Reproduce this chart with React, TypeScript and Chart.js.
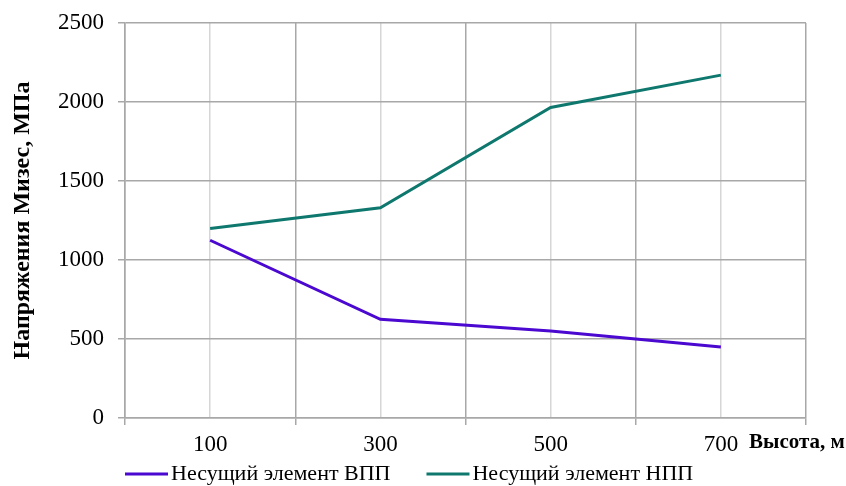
import React, { useEffect, useRef } from "react";
import { Chart, registerables } from "chart.js";

Chart.register(...registerables);

// Heights along the x axis (m)
const heights = [100, 300, 500, 700];
// Von Mises stress, MPa
const upperMember = [1125, 625, 550, 450];
const lowerMember = [1200, 1330, 1965, 2170];

const seriesLabels = ["Несущий элемент ВПП", "Несущий элемент НПП"];
const seriesColors = ["#4a08d0", "#0f786e"];

const yTitle = "Напряжения Мизес, МПа";
const xTitle = "Высота, м";

const SERIF = "'Liberation Serif', 'Times New Roman', serif";

const sideTextPlugin = {
  id: "sideText",
  afterDraw(chart: any) {
    const { ctx, chartArea } = chart;
    ctx.save();
    // axis title to the right of the last height label
    ctx.font = `bold 21px ${SERIF}`;
    ctx.fillStyle = "#000";
    ctx.textAlign = "left";
    ctx.textBaseline = "middle";
    ctx.fillText(xTitle, chartArea.right - 57, chartArea.bottom + 25);

    // legend row
    ctx.font = `22px ${SERIF}`;
    let x = chartArea.left;
    const y = chartArea.bottom + 56;
    chart.data.datasets.forEach((ds: any) => {
      ctx.strokeStyle = ds.borderColor;
      ctx.lineWidth = 3;
      ctx.beginPath();
      ctx.moveTo(x, y);
      ctx.lineTo(x + 43, y);
      ctx.stroke();
      ctx.fillStyle = "#000";
      ctx.fillText(ds.label, x + 46, y);
      x += 46 + ctx.measureText(ds.label).width + 36;
    });
    ctx.restore();
  },
};

export default function App() {
  const canvasRef = useRef<HTMLCanvasElement | null>(null);

  useEffect(() => {
    document.body.style.margin = "0";
    const canvas = canvasRef.current;
    if (!canvas) return;

    const toPoints = (vals: number[]) =>
      heights.map((h, i) => ({ x: h, y: vals[i] }));

    const chart = new Chart(canvas, {
      type: "line",
      data: {
        datasets: [
          {
            label: seriesLabels[0],
            data: toPoints(upperMember),
            borderColor: seriesColors[0],
            backgroundColor: seriesColors[0],
            borderWidth: 3,
            pointRadius: 0,
            tension: 0,
          },
          {
            label: seriesLabels[1],
            data: toPoints(lowerMember),
            borderColor: seriesColors[1],
            backgroundColor: seriesColors[1],
            borderWidth: 3,
            pointRadius: 0,
            tension: 0,
          },
        ],
      },
      options: {
        animation: false,
        responsive: true,
        maintainAspectRatio: false,
        layout: { padding: { top: 23, right: 40, left: 0, bottom: 0 } },
        plugins: {
          legend: { display: false },
          tooltip: { enabled: false },
        },
        scales: {
          x: {
            type: "linear",
            min: 0,
            max: 800,
            afterFit: (scale: any) => {
              scale.height = 68;
              scale.paddingLeft = 0;
              scale.paddingRight = 0;
            },
            afterBuildTicks: (scale: any) => {
              const t = [];
              for (let v = 0; v <= 800; v += 100) t.push({ value: v });
              scale.ticks = t;
            },
            ticks: {
              autoSkip: false,
              maxRotation: 0,
              padding: 6,
              color: "#000",
              font: { family: SERIF, size: 23 },
              callback: (v: any) => (heights.includes(Number(v)) ? String(v) : ""),
            },
            grid: {
              color: (c: any) =>
                c.tick && c.tick.value % 200 === 0 ? "#a8a8a8" : "#d6d6d6",
              tickColor: (c: any) =>
                c.tick && c.tick.value % 200 === 0 ? "#a8a8a8" : "rgba(0,0,0,0)",
              tickLength: 7,
              lineWidth: 1.5,
            },
            border: { display: true, color: "#a8a8a8", width: 1.5 },
          },
          y: {
            min: 0,
            max: 2500,
            afterFit: (scale: any) => {
              scale.width = 125;
              scale.paddingTop = 0;
              scale.paddingBottom = 0;
            },
            ticks: {
              stepSize: 500,
              padding: 14,
              color: "#000",
              font: { family: SERIF, size: 23 },
              callback: (v: any) => String(v),
            },
            grid: {
              color: "#a8a8a8",
              tickColor: "#a8a8a8",
              tickLength: 7,
              lineWidth: 1.5,
            },
            border: { display: true, color: "#a8a8a8", width: 1.5 },
            title: {
              display: true,
              text: yTitle,
              color: "#000",
              font: { family: SERIF, size: 24, weight: "bold" },
              padding: { top: 8, bottom: 0 },
            },
          },
        },
      },
      plugins: [sideTextPlugin],
    });

    return () => chart.destroy();
  }, []);

  return (
    <div style={{ position: "relative", width: 846, height: 486, background: "#fff" }}>
      <canvas ref={canvasRef} />
    </div>
  );
}
